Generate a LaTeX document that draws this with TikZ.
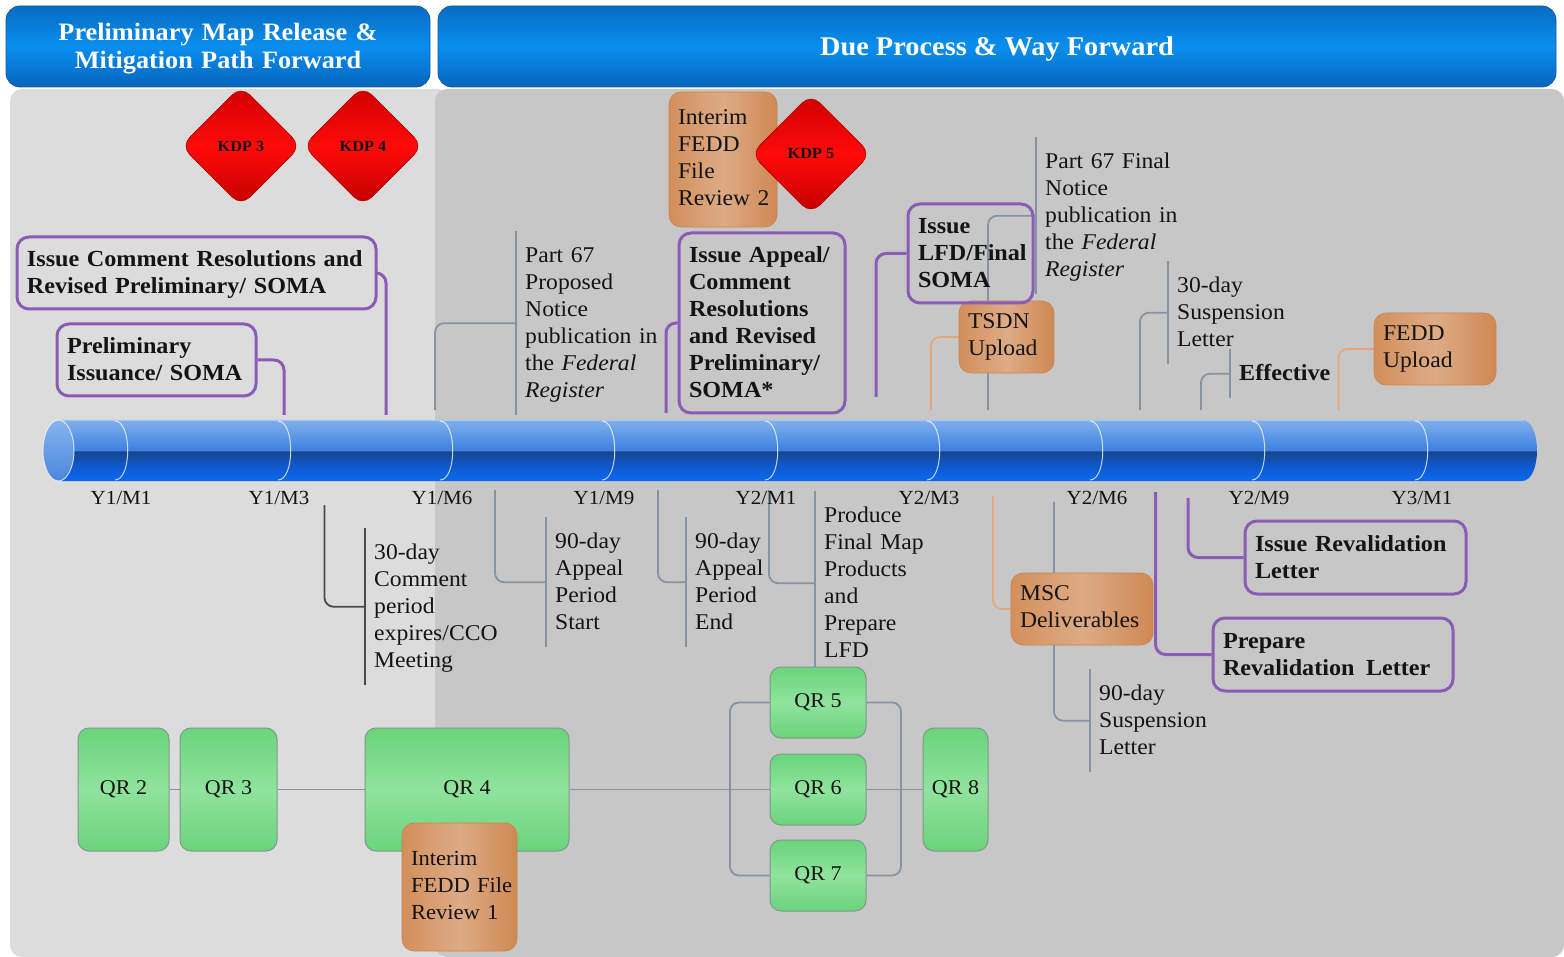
\documentclass[tikz,border=0pt]{standalone}
\usepackage{fontspec}
\setmainfont{Liberation Serif}[FakeStretch=1.05]
\usetikzlibrary{shapes.geometric}

% palette
\definecolor{ink}{HTML}{141414}
\definecolor{panelL}{HTML}{DCDCDC}
\definecolor{panelR}{HTML}{C7C7C7}
\definecolor{hdrTop}{HTML}{066CC2}
\definecolor{hdrMid}{HTML}{0A8EEE}
\definecolor{hdrBot}{HTML}{0664BC}
\definecolor{hdrEdge}{HTML}{1B5C9C}
\definecolor{purp}{HTML}{8B5CB6}
\definecolor{cWire}{HTML}{8594A3}
\definecolor{cWireDark}{HTML}{4A4A4A}
\definecolor{cWireOr}{HTML}{E6A574}
\definecolor{orL}{HTML}{D38F5B}
\definecolor{orM}{HTML}{DDAB86}
\definecolor{orR}{HTML}{CF8853}
\definecolor{orEdge}{HTML}{C8844F}
\definecolor{qrTop}{HTML}{6AD47B}
\definecolor{qrMid}{HTML}{90E39D}
\definecolor{qrBot}{HTML}{6BD37B}
\definecolor{qrEdge}{HTML}{7E9A8B}
\definecolor{kdpTop}{HTML}{CE0000}
\definecolor{kdpMid}{HTML}{FF0A0A}
\definecolor{kdpBot}{HTML}{C20000}
\definecolor{kdpEdge}{HTML}{B00000}
\definecolor{tubeB}{HTML}{0C68EC}
\definecolor{tubeB2}{HTML}{0F5BD4}
\definecolor{tubeD}{HTML}{16468C}
\definecolor{tubeM}{HTML}{3C82E0}
\definecolor{tubeT}{HTML}{80B0EC}
\definecolor{tubeHi}{HTML}{A8C8F2}
\definecolor{capT}{HTML}{86B4EE}
\definecolor{capB}{HTML}{4A86DC}

% glossy tube: bright lower half, dark band at the middle, light upper half
\pgfdeclareverticalshading{tubeshade}{100bp}{color(0bp)=(tubeB); color(25bp)=(tubeB); color(36bp)=(tubeB2); color(49.2bp)=(tubeD); color(50.2bp)=(tubeM); color(75bp)=(tubeT); color(100bp)=(tubeT)}

\pgfdeclarelayer{panels}
\pgfdeclarelayer{wires}
\pgfsetlayers{panels,wires,main}

\newcommand\lblfont{\fontsize{22.5}{27}\selectfont}
\newcommand\lblbold{\fontsize{23}{27}\selectfont\bfseries}

\tikzset{
  lbl/.style={font=\lblfont, text=ink, align=left,
    execute at begin node=\strut, execute at end node=\strut},
  note/.style={lbl, anchor=north west, inner xsep=9pt, inner ysep=10pt, text width=165pt,
    execute at begin node={\rule{0pt}{20.9pt}}},
  pbox/.style={lbl, font=\lblbold, draw=purp, line width=3pt,
    rounded corners=12pt, inner xsep=10pt, inner ysep=0pt,
    execute at begin node={\rule{0pt}{22.9pt}}},
  obox/.style={lbl, left color=orL, right color=orR, middle color=orM,
    draw=orEdge, line width=0.6pt, rounded corners=12pt, inner xsep=9pt, inner ysep=0pt},
  qr/.style={font=\fontsize{21}{25}\selectfont, text=ink, top color=qrTop,
    bottom color=qrBot, middle color=qrMid, draw=qrEdge, line width=1pt,
    rounded corners=11pt, inner sep=0pt},
  kdp/.style={diamond, minimum width=120pt, minimum height=120pt, rounded corners=12pt,
    top color=kdpTop, bottom color=kdpBot, middle color=kdpMid, draw=kdpEdge,
    line width=0.6pt, font=\fontsize{15.5}{18}\selectfont\bfseries, text=ink, inner sep=0pt},
  hdr/.style={rounded corners=14pt, top color=hdrTop, bottom color=hdrBot,
    middle color=hdrMid, draw=hdrEdge, line width=0.8pt, text=white,
    font=\fontsize{27}{29}\selectfont\bfseries, align=center, inner sep=0pt,
    execute at begin node={\rule{0pt}{24.3pt}}},
  ylab/.style={font=\fontsize{20}{24}\selectfont, text=ink, anchor=base, inner sep=0pt},
  wire/.style={draw=cWire, line width=1.8pt, rounded corners=9pt},
  wiredark/.style={wire, draw=cWireDark},
  wireor/.style={draw=cWireOr, line width=1.6pt, rounded corners=9pt},
  wirep/.style={draw=purp, line width=3pt, rounded corners=10pt},
}

\begin{document}
\begin{tikzpicture}[x=1pt, y=-1pt]
\useasboundingbox (0,0) rectangle (1564,957);

% ---------- panels ----------
\begin{pgfonlayer}{panels}
  \fill[panelL, rounded corners=12pt] (10,89) rectangle (450,957);
  \fill[panelR, rounded corners=12pt] (435,89) rectangle (1564,957);
\end{pgfonlayer}

% ---------- headers ----------
\node[hdr, minimum width=424pt, minimum height=81pt, text width=400pt,
  font=\fontsize{25}{28}\selectfont\bfseries,
  execute at begin node={\rule{0pt}{22pt}}, execute at end node=\strut]
  (hL) at (218,46.5) {Preliminary Map Release \&\\Mitigation Path Forward};
\node[hdr, minimum width=1118pt, minimum height=81pt] (hR) at (997,46.5)
  {Due Process \& Way Forward};

% ---------- timeline tube ----------
\path[shading=tubeshade] (58.5,420) -- (1522,420)
  .. controls (1542,420) and (1542,481) .. (1522,481) -- (58.5,481) -- cycle;
\draw[tubeHi, line width=1pt] (58.5,420.6) -- (1524,420.6);
\foreach \xx in {115,278,440,602,765,927,1090,1252,1415}
  \draw[white, opacity=0.75, line width=1pt]
    (\xx,421) .. controls (\xx+17,421) and (\xx+17,480) .. (\xx,480);
\path[draw=white, draw opacity=0.7, line width=1pt, top color=capT, bottom color=capB]
  (58.5,450.5) ellipse [x radius=15.5, y radius=30.5];

% month labels
\node[ylab] (m1)  at (121,504)  {Y1/M1};
\node[ylab] (m3)  at (279,504)  {Y1/M3};
\node[ylab] (m6)  at (442,504)  {Y1/M6};
\node[ylab] (m9)  at (604,504)  {Y1/M9};
\node[ylab] (m13) at (766,504)  {Y2/M1};
\node[ylab] (m15) at (929,504)  {Y2/M3};
\node[ylab] (m18) at (1097,504) {Y2/M6};
\node[ylab] (m21) at (1259,504) {Y2/M9};
\node[ylab] (m25) at (1422,504) {Y3/M1};

% ---------- milestones above the tube ----------
\node[kdp] (kdp3) at (241,146) {KDP 3};
\node[kdp] (kdp4) at (363,146) {KDP 4};

\node[pbox, minimum width=359pt, minimum height=72pt, text width=339pt] (icr) at (196.5,273)
  {Issue~Comment~Resolutions~and\\Revised~Preliminary/~SOMA};
\node[pbox, minimum width=199pt, minimum height=72pt, text width=179pt] (pis) at (156.5,360)
  {Preliminary\\Issuance/~SOMA};

\node[note] (p67p) at (516,231)
  {Part~67\\Proposed\\Notice\\publication~in\\the~\textit{Federal}\\\textit{Register}};

\node[obox, minimum width=108pt, minimum height=135pt, text width=90pt] (ifr2) at (723,159.5)
  {Interim\\FEDD\\File\\Review~2};
\node[kdp] (kdp5) at (811,154) {KDP 5};

\node[pbox, minimum width=166pt, minimum height=180pt, text width=146pt] (appeal) at (762,323)
  {Issue~Appeal/\\Comment\\Resolutions\\and~Revised\\Preliminary/\\SOMA*};

\node[obox, minimum width=95pt, minimum height=72pt, text width=77pt] (tsdn) at (1006.5,337)
  {TSDN\\Upload};
\node[pbox, minimum width=125pt, minimum height=99pt, text width=105pt] (lfd) at (970.5,253.5)
  {Issue\\LFD/Final\\SOMA};

\node[note] (p67f) at (1036,137)
  {Part~67~Final\\Notice\\publication~in\\the~\textit{Federal}\\\textit{Register}};
\node[note] (s30) at (1168,261) {30-day\\Suspension\\Letter};
\node[note, font=\lblbold] (eff) at (1230,349) {Effective};
\node[obox, minimum width=122pt, minimum height=72pt, text width=104pt] (fedd) at (1435,349)
  {FEDD\\Upload};

% ---------- milestones below the tube ----------
\node[note] (c30) at (365,528)
  {30-day\\Comment\\period\\expires/CCO\\Meeting};
\node[note] (a90s) at (546,517) {90-day\\Appeal\\Period\\Start};
\node[note] (a90e) at (686,517) {90-day\\Appeal\\Period\\End};
\node[note] (prod) at (815,491)
  {Produce\\Final~Map\\Products\\and\\Prepare\\LFD};
\node[obox, minimum width=142pt, minimum height=72pt, text width=124pt] (msc) at (1082,609)
  {MSC\\Deliverables};
\node[note] (s90) at (1090,669) {90-day\\Suspension\\Letter};
\node[pbox, minimum width=221pt, minimum height=73pt, text width=201pt] (reval) at (1355.5,557.5)
  {Issue~Revalidation\\Letter};
\node[pbox, minimum width=240pt, minimum height=73pt, text width=220pt] (prep) at (1333,654.5)
  {Prepare\\Revalidation~\,Letter};

% ---------- QR chain ----------
\node[qr, minimum width=91pt,  minimum height=123pt] (qr2) at (123.5,789.5) {QR 2};
\node[qr, minimum width=97pt,  minimum height=123pt] (qr3) at (228.5,789.5) {QR 3};
\node[qr, minimum width=204pt, minimum height=123pt] (qr4) at (467,789.5)   {QR 4};
\node[qr, minimum width=96pt,  minimum height=71pt]  (qr5) at (818,702.5)   {QR 5};
\node[qr, minimum width=96pt,  minimum height=71pt]  (qr6) at (818,789.5)   {QR 6};
\node[qr, minimum width=96pt,  minimum height=71pt]  (qr7) at (818,875.5)   {QR 7};
\node[qr, minimum width=65pt,  minimum height=123pt] (qr8) at (955.5,789.5) {QR 8};
\node[obox, minimum width=115pt, minimum height=128pt, text width=97pt,
  font=\fontsize{21.5}{27}\selectfont] (ifr1) at (459.5,887)
  {Interim\\FEDD~File\\Review~1};

% ---------- connectors ----------
\begin{pgfonlayer}{wires}
  % points on the tube
  \coordinate (tIcr)  at (386,415);
  \coordinate (tPis)  at (284,415);
  \coordinate (tP67p) at (435,410);
  \coordinate (tApp)  at (666,413);
  \coordinate (tLfd)  at (876,397);
  \coordinate (tTsdn) at (931,410);
  \coordinate (tP67f) at (988,410);
  \coordinate (tS30)  at (1140,410);
  \coordinate (tEff)  at (1201,410);
  \coordinate (tFedd) at (1338.5,410);
  \coordinate (bC30)  at (324.5,505);
  \coordinate (bA90s) at (495,490);
  \coordinate (bA90e) at (658,490);
  \coordinate (bProd) at (769,490);
  \coordinate (bMsc)  at (993,496);
  \coordinate (bS90)  at (1054,502);
  \coordinate (bPrep) at (1155.5,492);
  \coordinate (bRev)  at (1188,498);
  \coordinate (jl)    at (730,789.5);
  \coordinate (jr)    at (901,789.5);

  % brackets beside the plain labels
  \foreach \n in {p67p,p67f,s30,eff,a90s,a90e,s90}
    \draw[wire, rounded corners=0pt] (\n.north west) -- (\n.south west);
  \draw[wiredark, rounded corners=0pt] (c30.north west) -- (c30.south west);
  \draw[wire, rounded corners=0pt] (prod.north west) -- (prod.north west |- qr5.north);

  % above the tube
  \draw[wirep] (icr.east) -| (tIcr);
  \draw[wirep] (pis.east) -| (tPis);
  \draw[wire]  (tP67p) |- (p67p.west);
  \draw[wirep] (tApp) |- (appeal.west);
  \draw[wirep] (tLfd) |- (lfd.west);
  \draw[wireor] (tTsdn) |- (tsdn.west);
  \draw[wire]  (tP67f) |- (p67f.west);
  \draw[wire]  (tS30) |- (s30.west);
  \draw[wire]  (tEff) |- (eff.west);
  \draw[wireor] (tFedd) |- (fedd.west);

  % below the tube
  \draw[wiredark] (bC30) |- (c30.west);
  \draw[wire]  (bA90s) |- (a90s.west);
  \draw[wire]  (bA90e) |- (a90e.west);
  \draw[wire]  (bProd) |- (prod.west);
  \draw[wireor] (bMsc) |- (msc.west);
  \draw[wire]  (bS90) |- (s90.west);
  \draw[wirep] (bPrep) |- (prep.west);
  \draw[wirep] (bRev) |- (reval.west);

  % QR chain
  \draw[wire] (qr2.east) -- (qr3.west);
  \draw[wire] (qr3.east) -- (qr4.west);
  \draw[wire] (qr4.east) -- (jl);
  \draw[wire] (qr5.west) -| (jl) |- (qr7.west);
  \draw[wire] (jl) -- (qr6.west);
  \draw[wire] (qr5.east) -| (jr) |- (qr7.east);
  \draw[wire] (qr6.east) -- (qr8.west);
\end{pgfonlayer}
\end{tikzpicture}
\end{document}
